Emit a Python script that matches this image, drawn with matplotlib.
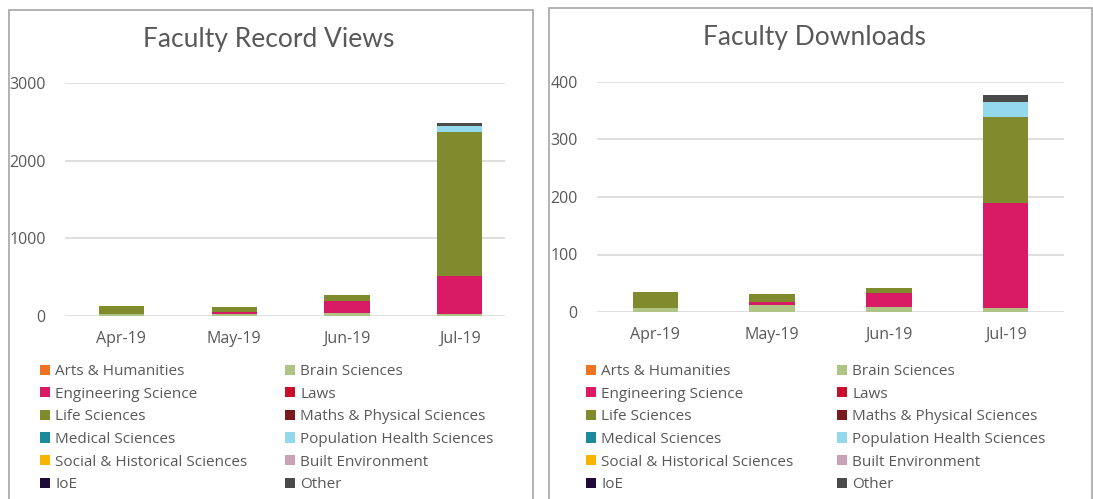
import numpy as np
import matplotlib
matplotlib.use("Agg")
import matplotlib.pyplot as plt
from matplotlib.patches import Rectangle, Patch

plt.rcParams['font.family'] = ['Open Sans', 'DejaVu Sans']

# data
months = ['Apr-19', 'May-19', 'Jun-19', 'Jul-19']
faculties = ['Arts & Humanities', 'Brain Sciences', 'Engineering Science', 'Laws',
             'Life Sciences', 'Maths & Physical Sciences', 'Medical Sciences',
             'Population Health Sciences', 'Social & Historical Sciences',
             'Built Environment', 'IoE', 'Other']
colors = ['#ED7422', '#AFC485', '#D81B64', '#C8102E', '#7F8B2C', '#7A1A1C',
          '#1B8A9A', '#93D8EC', '#F7B500', '#C9A3B5', '#1E0B3A', '#4A4A4A']

# Faculty Record Views
views_arts = [0, 0, 0, 0]
views_brain = [20, 22, 40, 20]
views_eng = [0, 28, 150, 500]
views_laws = [0, 0, 0, 0]
views_life = [110, 60, 80, 1850]
views_maths = [0, 0, 0, 0]
views_medical = [0, 0, 0, 0]
views_pop = [0, 0, 0, 80]
views_social = [0, 0, 0, 0]
views_built = [0, 0, 0, 0]
views_ioe = [0, 0, 0, 0]
views_other = [0, 0, 0, 35]

# Faculty Downloads
dl_arts = [0, 0, 0, 0]
dl_brain = [7, 12, 9, 7]
dl_eng = [0, 5, 24, 183]
dl_laws = [0, 0, 0, 0]
dl_life = [27, 15, 8, 149]
dl_maths = [0, 0, 0, 0]
dl_medical = [0, 0, 0, 0]
dl_pop = [0, 0, 0, 26]
dl_social = [0, 0, 0, 0]
dl_built = [0, 0, 0, 0]
dl_ioe = [0, 0, 0, 0]
dl_other = [0, 0, 0, 13]

views = [views_arts, views_brain, views_eng, views_laws, views_life, views_maths,
         views_medical, views_pop, views_social, views_built, views_ioe, views_other]
downloads = [dl_arts, dl_brain, dl_eng, dl_laws, dl_life, dl_maths,
             dl_medical, dl_pop, dl_social, dl_built, dl_ioe, dl_other]

W, H = 1093, 499
fig = plt.figure(figsize=(W / 100, H / 100), dpi=100)

def px(x0, y0, x1, y1):
    # pixel box (top-left origin) -> figure fraction rect
    return [x0 / W, 1 - y1 / H, (x1 - x0) / W, (y1 - y0) / H]

grey = '#595959'

# panel borders
for (x0, y0, x1, y1) in [(9, 10, 533, 505), (549, 8, 1092, 505)]:
    fig.patches.append(Rectangle((x0 / W, 1 - y1 / H), (x1 - x0) / W, (y1 - y0) / H,
                                 transform=fig.transFigure, fill=False,
                                 edgecolor='#A6A6A6', lw=1.2))

panels = [
    dict(data=views, title='Faculty Record Views', box=(65, 83, 505, 316),
         ymax=3000, step=1000, xmax=3.4, width=0.4, tcx=269, tcy=40,
         leg1=40, leg2=285),
    dict(data=downloads, title='Faculty Downloads', box=(597, 82, 1064, 312),
         ymax=400, step=100, xmax=3.5, width=0.39, tcx=814, tcy=38,
         leg1=586, leg2=837),
]

x = np.arange(len(months))
for p in panels:
    ax = fig.add_axes(px(*p['box']))
    bottom = np.zeros(len(months))
    handles = []
    for name, vals, c in zip(faculties, p['data'], colors):
        vals = np.array(vals, dtype=float)
        ax.bar(x, vals, p['width'], bottom=bottom, color=c, zorder=3)
        bottom += vals
        handles.append(Patch(facecolor=c, label=name))
    ax.set_xlim(-0.5, p['xmax'])
    ax.set_ylim(0, p['ymax'])
    ax.set_yticks(np.arange(0, p['ymax'] + 1, p['step']))
    ax.set_xticks(x)
    ax.set_xticklabels(months)
    ax.grid(axis='y', color='#D9D9D9', lw=1.2, zorder=0)
    for s in ax.spines.values():
        s.set_visible(False)
    ax.tick_params(axis='both', length=0, colors=grey, labelsize=11.5)
    ax.tick_params(axis='x', pad=11)
    ax.tick_params(axis='y', pad=14)
    ax.set_facecolor('none')

    fig.text(p['tcx'] / W, 1 - p['tcy'] / H, p['title'], ha='center', va='center',
             fontsize=19, color=grey, family=['Lato', 'DejaVu Sans'])

    for col, xl in enumerate([p['leg1'], p['leg2']]):
        hs = handles[col::2]
        leg = fig.legend(handles=hs, loc='upper left',
                         bbox_to_anchor=(xl / W, 1 - 364 / H),
                         frameon=False, fontsize=11, labelcolor=grey,
                         handlelength=0.65, handleheight=0.65, handletextpad=0.35,
                         labelspacing=0.5, borderpad=0, borderaxespad=0)

fig.savefig('out.png', dpi=100)
